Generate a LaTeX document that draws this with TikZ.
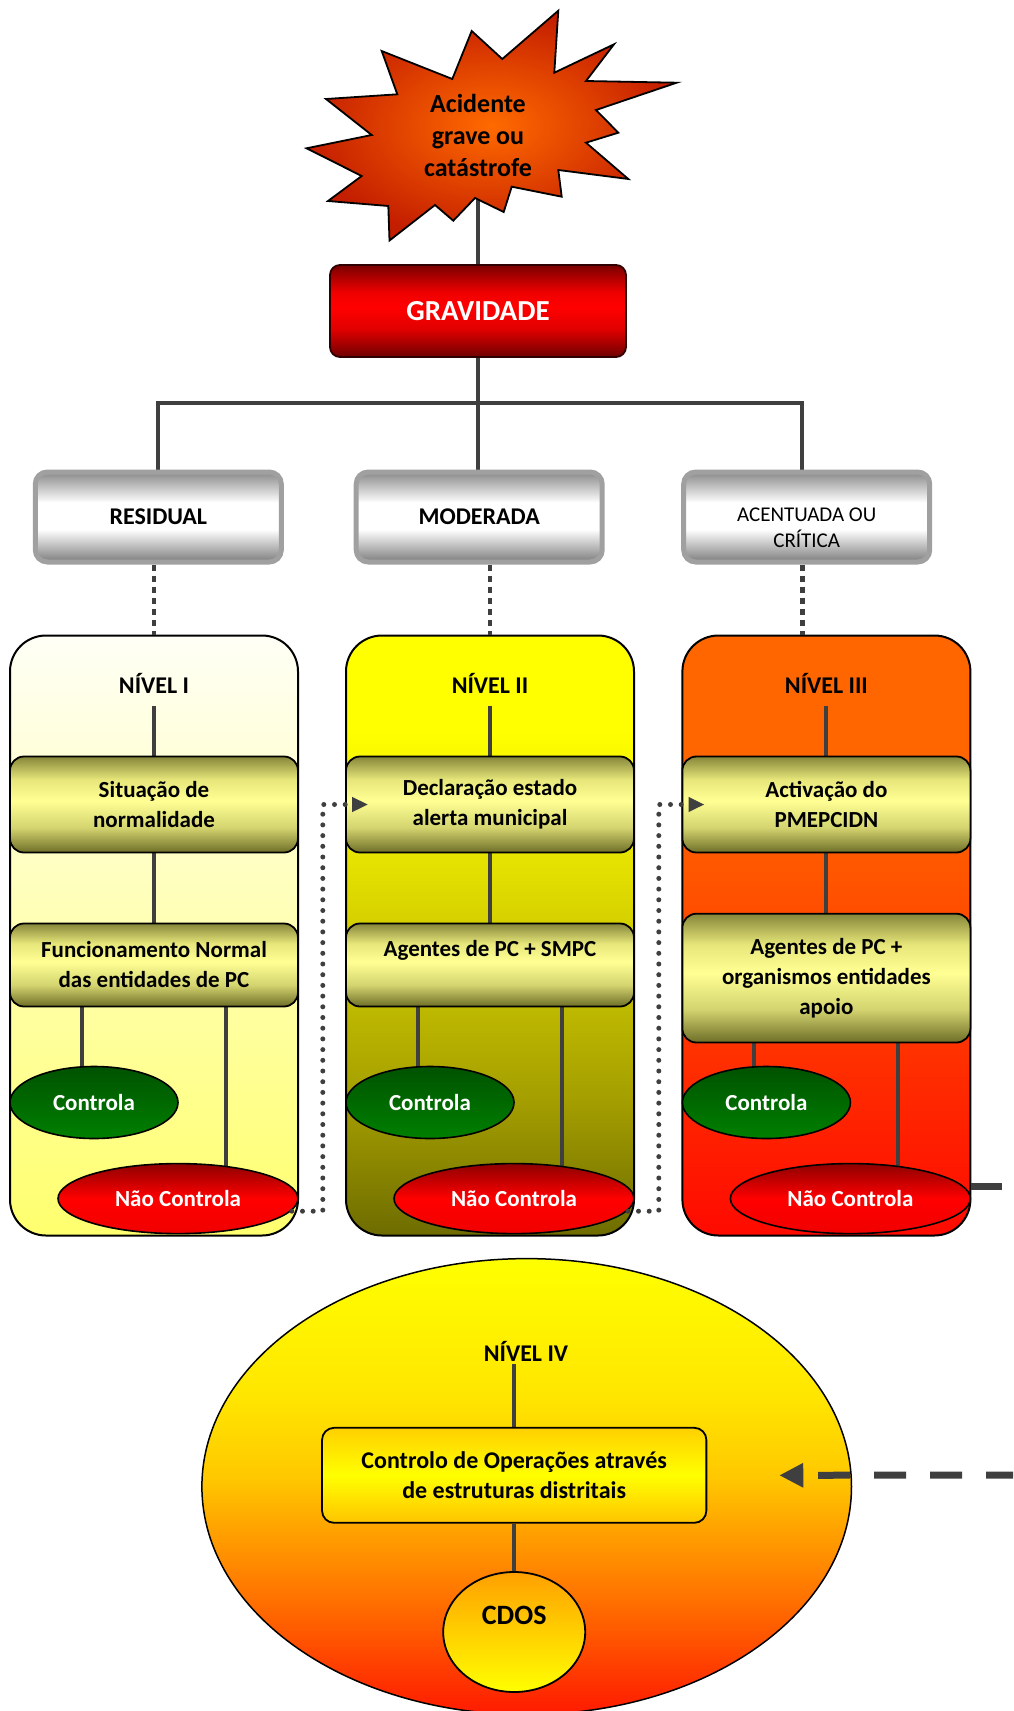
\documentclass[tikz,border=0pt]{standalone}
\usepackage{fontspec}
\setmainfont{Carlito}
\usetikzlibrary{shapes.geometric,arrows.meta}
\definecolor{conn}{HTML}{3F3F3F}
\definecolor{gBorder}{HTML}{A0A0A0}
\definecolor{gTop}{HTML}{8A8A8A}
\definecolor{gBot}{HTML}{7D7D7D}
\definecolor{oB}{HTML}{6E6E28}
\definecolor{oM1}{HTML}{D4D470}
\definecolor{oL}{HTML}{FFFF94}
\definecolor{oM2}{HTML}{E6E67A}
\definecolor{oT}{HTML}{86863A}
\definecolor{l1t}{HTML}{FFFFF6}
\definecolor{l1b}{HTML}{FFFF6E}
\definecolor{l2a}{HTML}{6E6C00}
\definecolor{l2b}{HTML}{A39D00}
\definecolor{l2c}{HTML}{E2DE00}
\definecolor{l2d}{HTML}{FFFF00}
\definecolor{l3a}{HTML}{FF0A00}
\definecolor{l3b}{HTML}{FF3000}
\definecolor{l3c}{HTML}{FF5C00}
\definecolor{l3d}{HTML}{FF6600}
\definecolor{e4a}{HTML}{FF1A00}
\definecolor{e4b}{HTML}{FF7000}
\definecolor{e4c}{HTML}{FFA000}
\definecolor{e4d}{HTML}{FFC800}
\definecolor{e4e}{HTML}{FFE600}
\definecolor{e4f}{HTML}{FFFF00}
\definecolor{gra}{HTML}{6E0000}
\definecolor{grb}{HTML}{E00000}
\definecolor{grc}{HTML}{FF0000}
\definecolor{grd}{HTML}{F00000}
\definecolor{gre}{HTML}{7A0000}
\definecolor{gravB}{HTML}{300000}
\definecolor{starIn}{HTML}{FF6A00}
\definecolor{starOut}{HTML}{C41E00}
\definecolor{ctT}{HTML}{005200}
\definecolor{ctB}{HTML}{008000}
\definecolor{ncT}{HTML}{8E0000}
\definecolor{ncM}{HTML}{FF0000}
\definecolor{ncB}{HTML}{F00000}
\definecolor{b4t}{HTML}{FFD000}
\definecolor{b4m}{HTML}{FFFF00}
\definecolor{b4b}{HTML}{FFC400}
\definecolor{cdT}{HTML}{FFA000}
\definecolor{cdB}{HTML}{FFFF00}
\pgfdeclareverticalshading{greybox}{100bp}{color(0bp)=(gBot); color(25bp)=(gBot); color(43bp)=(white); color(58bp)=(white); color(75bp)=(gTop); color(100bp)=(gTop)}
\pgfdeclareverticalshading{olivebox}{100bp}{color(0bp)=(oB); color(25bp)=(oB); color(38bp)=(oM1); color(52bp)=(oL); color(63bp)=(oM2); color(75bp)=(oT); color(100bp)=(oT)}
\pgfdeclareverticalshading{lvtwo}{100bp}{color(0bp)=(l2a); color(25bp)=(l2a); color(36bp)=(l2b); color(55bp)=(l2c); color(67bp)=(l2d); color(100bp)=(l2d)}
\pgfdeclareverticalshading{lvthree}{100bp}{color(0bp)=(l3a); color(25bp)=(l3a); color(40bp)=(l3b); color(58bp)=(l3c); color(66bp)=(l3d); color(100bp)=(l3d)}
\pgfdeclareverticalshading{bigell}{100bp}{color(0bp)=(e4a); color(25bp)=(e4a); color(37.5bp)=(e4b); color(45bp)=(e4c); color(51bp)=(e4d); color(60bp)=(e4e); color(75bp)=(e4f); color(100bp)=(e4f)}
\pgfdeclareverticalshading{gravsh}{100bp}{color(0bp)=(gra); color(25bp)=(gra); color(40bp)=(grb); color(52bp)=(grc); color(60bp)=(grd); color(75bp)=(gre); color(100bp)=(gre)}
\pgfdeclarelayer{bg}
\pgfdeclarelayer{mid}
\pgfsetlayers{bg,mid,main}
\begin{document}
\begin{tikzpicture}[x=1pt,y=-1pt,
  txt/.style={font=\fontsize{23}{30}\selectfont\bfseries, align=center, inner sep=0pt},
  lbl/.style={font=\fontsize{24}{30}\selectfont\bfseries, inner sep=0pt},
  conline/.style={draw=conn, line width=4pt},
  dotline/.style={draw=conn, line width=4.5pt, dash pattern=on 6pt off 5pt},
  dotc/.style={draw=conn, line width=5pt, line cap=round, dash pattern=on 0pt off 10.7pt, -{Triangle[length=16pt,width=14pt]}},
  greyb/.style={rectangle, rounded corners=12pt, shade, shading=greybox, draw=gBorder, line width=5pt, minimum width=246pt, minimum height=90pt, inner sep=0pt, align=center, font=\fontsize{24}{30}\selectfont\bfseries},
  levb/.style={rectangle, rounded corners=36pt, draw=black, line width=2pt, minimum width=288pt, minimum height=600pt, inner sep=0pt},
  oliveb/.style={rectangle, rounded corners=14pt, shade, shading=olivebox, draw=black, line width=1.8pt, minimum width=288pt, txt},
  ctl/.style={ellipse, draw=black, line width=1.6pt, top color=ctT, bottom color=ctB, minimum width=168pt, minimum height=72pt, inner sep=0pt, font=\fontsize{23}{28}\selectfont\bfseries, text=white},
  nctl/.style={ellipse, draw=black, line width=1.6pt, top color=ncT, bottom color=ncB, middle color=ncM, minimum width=240pt, minimum height=70pt, inner sep=0pt, font=\fontsize{23}{28}\selectfont\bfseries, text=white}
]
\useasboundingbox (0,0) rectangle (1013,1711);

\begin{pgfonlayer}{bg}
\node[levb, top color=l1t, bottom color=l1b] (lev1) at (154,935.5) {};
\node[levb, shade, shading=lvtwo] (lev2) at (490,935.5) {};
\node[levb, shade, shading=lvthree] (lev3) at (826.4,935.5) {};
\node[ellipse, draw=black, line width=1.5pt, shade, shading=bigell, minimum width=649.6pt, minimum height=456pt, inner sep=0pt] (e4) at (526.7,1486.6) {};
\end{pgfonlayer}

% star
\path[draw=black, line width=1.8pt, line join=miter, inner color=starIn, outer color=starOut]
  (558.3,10.7) -- (554.3,72.7) -- (614,44.3) -- (586,81) -- (676.7,82.7) -- (596,110)
  -- (618.3,132.7) -- (586,142.7) -- (628.3,179) -- (558.3,170) -- (561.7,196.7)
  -- (511.7,186.7) -- (503.7,212) -- (475,198) -- (453.3,220.7) -- (435,205)
  -- (389.5,240.5) -- (388.3,206) -- (328,201) -- (361.7,176) -- (306.5,148.3)
  -- (371.7,135) -- (326,99) -- (397.3,94.3) -- (381.7,51) -- (452.3,79)
  -- (471.7,31) -- (502.3,59) -- cycle;
\node[font=\fontsize{26}{32}\selectfont\bfseries, align=center, inner sep=0pt] (startxt) at (478,135) {Acidente\\grave ou\\catástrofe};

\node[rectangle, rounded corners=10pt, draw=gravB, line width=1.8pt, shade, shading=gravsh, minimum width=296pt, minimum height=92pt, inner sep=0pt, font=\fontsize{29}{34}\selectfont\bfseries, text=white] (grav) at (478,311) {GRAVIDADE};

\node[greyb] (res) at (158.3,517) {RESIDUAL};
\node[greyb] (mod) at (479.2,517) {MODERADA};
\node[greyb, label={[name=acent, font=\fontsize{21}{26}\selectfont, align=center, inner sep=0pt, yshift=-11pt]center:ACENTUADA OU\\CRÍTICA}] (acen) at (806.7,517) {};

\node[lbl] (lv1t) at (154,683.4) {NÍVEL I};
\node[lbl] (lv2t) at (490,683.4) {NÍVEL II};
\node[lbl] (lv3t) at (826.4,683.4) {NÍVEL III};

\node[oliveb, minimum height=96pt] (i1a) at (154,804.5) {Situação de\\normalidade};
\node[oliveb, minimum height=96pt] (i2a) at (490,804.5) {Declaração estado\\alerta municipal};
\node[oliveb, minimum height=96pt] (i3a) at (826.4,804.5) {Activação do\\PMEPCIDN};
\node[oliveb, minimum height=83pt] (i1b) at (154,965) {Funcionamento Normal\\das entidades de PC};
\node[oliveb, minimum height=83pt, label={[name=i2bt, txt, yshift=15pt]center:Agentes de PC + SMPC}] (i2b) at (490,965) {};
\node[oliveb, minimum height=128.8pt] (i3b) at (826.4,978.1) {Agentes de PC +\\organismos entidades\\apoio};

\node[ctl] (c1) at (94,1102.5) {Controla};
\node[ctl] (c2) at (430,1102.5) {Controla};
\node[ctl] (c3) at (766.4,1102.5) {Controla};
\node[nctl] (n1) at (178,1198.6) {Não Controla};
\node[nctl] (n2) at (514,1198.6) {Não Controla};
\node[nctl] (n3) at (850.4,1198.6) {Não Controla};

\node[lbl] (lv4t) at (526,1351.4) {NÍVEL IV};
\node[rectangle, rounded corners=12pt, draw=black, line width=1.8pt, top color=b4t, bottom color=b4b, middle color=b4m, minimum width=384.3pt, minimum height=95pt, txt, font=\fontsize{24}{30}\selectfont\bfseries] (b4) at (514.2,1475.3) {Controlo de Operações através\\de estruturas distritais};
\node[ellipse, draw=black, line width=1.8pt, top color=cdT, bottom color=cdB, minimum width=142pt, minimum height=120pt, inner sep=0pt, label={[name=cdost, font=\fontsize{28}{32}\selectfont\bfseries, inner sep=0pt, yshift=17pt]center:CDOS}] (cdos) at (514.2,1632) {};

\begin{pgfonlayer}{mid}
\coordinate (bar) at (478,402.8);
\draw[conline] (startxt.center) -- (grav.north);
\draw[conline] (grav.south) -- (bar);
\draw[conline] (res.north) |- (bar) -| ([xshift=-4.4pt]acen.north);
\draw[conline] (bar) -- (bar |- mod.north);
\draw[dotline] (res.south -| lev1.north) -- (lev1.north);
\draw[dotline] (mod.south -| lev2.north) -- (lev2.north);
\draw[dotline] ([xshift=-4.4pt]acen.south) -- ([xshift=-4.4pt]acen.south |- lev3.north);
\foreach \i in {1,2,3}{
  \draw[conline] ([yshift=-23pt]lv\i t.center) -- (lv\i t.center |- i\i a.north);
  \draw[conline] (i\i a.south) -- (i\i b.north);
  \draw[conline] ([xshift=-72pt]i\i b.south) -- ([xshift=-72pt]i\i b.south |- c\i.center);
  \draw[conline] ([xshift=72pt]i\i b.south) -- ([xshift=72pt]i\i b.south |- n\i.center);
}
\draw[conline] ([yshift=-13pt]lv4t.center -| b4.north) -- (b4.north);
\draw[conline] (b4.south) -- (cdos.north);
\end{pgfonlayer}

\draw[dotc] ([xshift=-7pt,yshift=-12.6pt]n1.east) -- ++(31,0) |- ([xshift=23pt]i2a.west);
\draw[dotc] ([xshift=-7pt,yshift=-12.6pt]n2.east) -- ++(31,0) |- ([xshift=23pt]i3a.west);
\coordinate (out3) at (1002,1186.6);
\draw[draw=conn, line width=7pt] ([yshift=12pt]n3.east) -- (out3);
\coordinate (in4) at (1013,1475);
\draw[draw=conn, line width=7pt, dash pattern=on 32pt off 24pt, dash phase=5pt, -{Triangle[length=24pt,width=23pt]}] (in4) -- ([xshift=72pt]b4.east);
\end{tikzpicture}
\end{document}
